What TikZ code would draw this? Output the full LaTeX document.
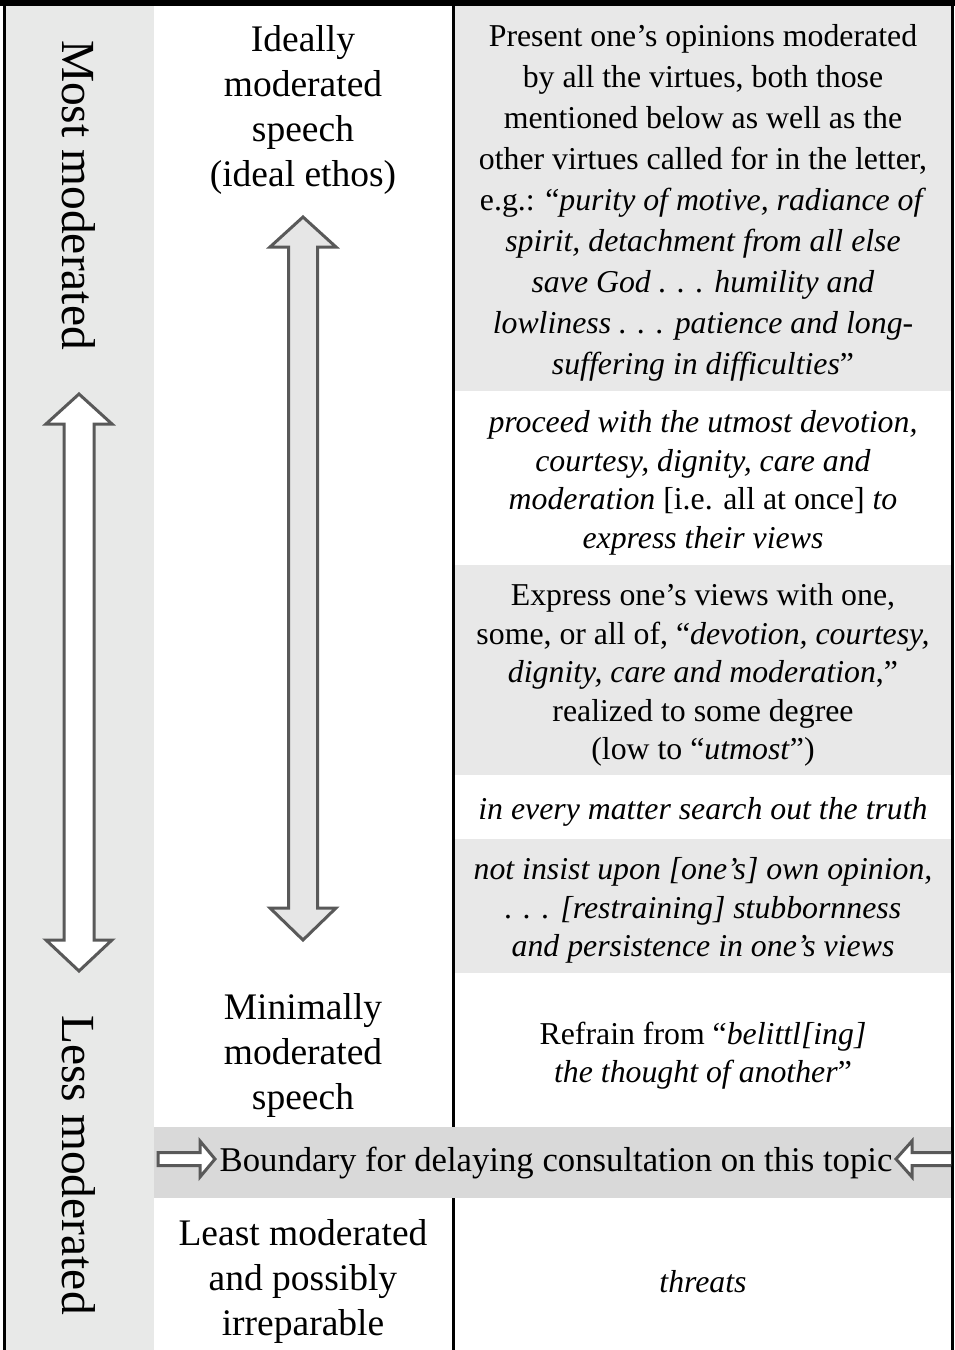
\documentclass[tikz,border=0pt]{standalone}
\usepackage{fontspec}
\setmainfont{Liberation Serif}
\definecolor{sidegray}{RGB}{232,233,232}
\definecolor{cellgray}{RGB}{232,232,232}
\definecolor{bandgray}{RGB}{217,217,217}
\definecolor{arrowline}{RGB}{89,89,89}
\definecolor{arrowfill}{RGB}{230,230,230}
\tikzset{
	midtext/.style={align=center, font=\fontsize{37.5}{45}\selectfont},
	celltext/.style={align=center, font=\fontsize{31.8}{38.6}\selectfont},
	sidetext/.style={rotate=-90, font=\fontsize{47.5}{57}\selectfont},
	hollow/.style={draw=arrowline, line width=3pt, fill=white}
}
\begin{document}
\begin{tikzpicture}[x=1pt, y=-1pt, inner sep=0pt]
	\useasboundingbox (0,0) rectangle (955,1350);
	% shaded cells
	\fill[sidegray] (6,6) rectangle (154,1350);
	\fill[cellgray] (455,6) rectangle (951,391);
	\fill[cellgray] (455,565) rectangle (951,775);
	\fill[cellgray] (455,839) rectangle (951,973);
	\fill[bandgray] (154,1127) rectangle (951,1198);
	% rules
	\draw[line width=6pt] (0,3) -- (955,3);
	\draw[line width=3pt] (4.5,0) -- (4.5,1350);
	\draw[line width=2.5pt] (952.5,0) -- (952.5,1350);
	\draw[line width=3pt] (453,6) -- (453,1127);
	\draw[line width=3pt] (453,1198) -- (453,1350);
	% arrows
	\draw[hollow, fill=arrowfill] (303,217) -- (336,247) -- (317.5,247) -- (317.5,908) -- (336,908) -- (303,940) -- (270,908) -- (288.5,908) -- (288.5,247) -- (270,247) -- cycle;
	\draw[hollow] (79,394) -- (112,424) -- (94,424) -- (94,940) -- (112,940) -- (79,971) -- (46,940) -- (64,940) -- (64,424) -- (46,424) -- cycle;
	\draw[hollow] (158,1152.5) -- (200,1152.5) -- (200,1141) -- (215,1159) -- (200,1177) -- (200,1165.5) -- (158,1165.5) -- cycle;
	\begin{scope}
		\clip (154,1127) rectangle (951,1198);
		\draw[hollow] (960,1152.5) -- (912,1152.5) -- (912,1141) -- (896,1159) -- (912,1177) -- (912,1165.5) -- (960,1165.5) -- cycle;
	\end{scope}
	% left column
	\node[sidetext] (most) at (79,195) {Most moderated};
	\node[sidetext] (less) at (79,1165) {Less moderated};
	% middle column
	\node[midtext] (ideal) at (303,109.5) {Ideally\\moderated\\speech\\(ideal ethos)};
	\node[midtext] (minimal) at (303,1055.5) {Minimally\\moderated\\speech};
	\node[midtext] (least) at (303,1281.5) {Least moderated\\and possibly\\irreparable};
	% right column
	\node[celltext, font=\fontsize{31.8}{41}\selectfont] (virtues) at (703,202.5) {Present one’s opinions moderated\\by all the virtues, both those\\mentioned below as well as the\\other virtues called for in the letter,\\e.g.: “\textit{purity of motive, radiance of}\\\textit{spirit, detachment from all else}\\\textit{save God . . . humility and}\\\textit{lowliness . . . patience and long-}\\\textit{suffering in difficulties}”};
	\node[celltext] (utmost) at (703,483) {\textit{proceed with the utmost devotion,}\\\textit{courtesy, dignity, care and}\\\textit{moderation} [i.e. all at once] \textit{to}\\\textit{express their views}};
	\node[celltext] (degree) at (703,675) {Express one’s views with one,\\some, or all of, “\textit{devotion, courtesy,}\\\textit{dignity, care and moderation},”\\realized to some degree\\(low to “\textit{utmost}”)};
	\node[celltext] (truth) at (703,811.5) {\textit{in every matter search out the truth}};
	\node[celltext] (insist) at (703,910.5) {\textit{not insist upon [one’s] own opinion,}\\\textit{. . . [restraining] stubbornness}\\\textit{and persistence in one’s views}};
	\node[celltext] (refrain) at (703,1055.5) {Refrain from “\textit{belittl[ing]}\\\textit{the thought of another}”};
	\node[midtext, font=\fontsize{34.7}{40}\selectfont] (boundary) at (556,1163.5) {Boundary for delaying consultation on this topic};
	\node[celltext] (threats) at (703,1281.5) {\textit{threats}};
\end{tikzpicture}
\end{document}
